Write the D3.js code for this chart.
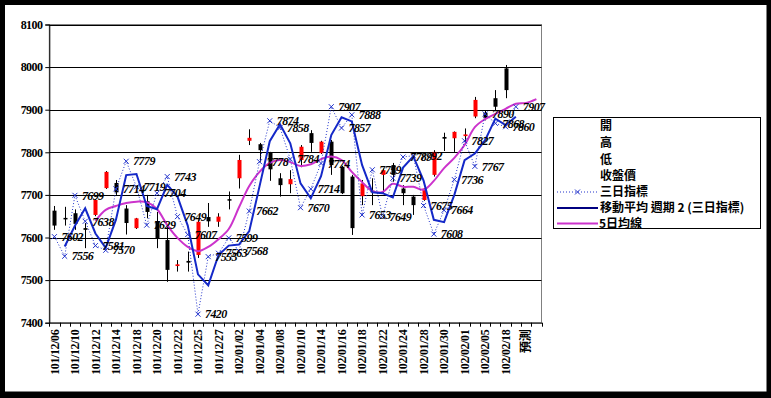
<!DOCTYPE html>
<html>
<head>
<meta charset="utf-8">
<script src="https://cdn.jsdelivr.net/npm/d3@7"></script>
<style>
  body { margin: 0; background: #000; }
  svg { display: block; }
</style>
</head>
<body>
<div id="chart"></div>
<script>
const width = 771
const height = 398
const margin = ({top: 24.5, right: 229.5, bottom: 75.3, left: 49.3})

// trading days (民國) ; last two slots are the forecast
const dates = ["101/12/06","101/12/07","101/12/10","101/12/11","101/12/12","101/12/13","101/12/14","101/12/17",
  "101/12/18","101/12/19","101/12/20","101/12/21","101/12/22","101/12/24","101/12/25","101/12/26",
  "101/12/27","101/12/28","102/01/02","102/01/03","102/01/04","102/01/07","102/01/08","102/01/09",
  "102/01/10","102/01/11","102/01/14","102/01/15","102/01/16","102/01/17","102/01/18","102/01/21",
  "102/01/22","102/01/23","102/01/24","102/01/25","102/01/28","102/01/29","102/01/30","102/01/31",
  "102/02/01","102/02/04","102/02/05","102/02/06","102/02/18","102/02/19","預測",""]

const open  = [7663,7646,7657,7622,7653,7716,7728,7668,7622,7685,7637,7594,7533,7545,7559,7648,
  7637,7690,7739,7827,7819,7799,7739,7725,7782,7845,7798,7825,7766,7743,7697,7710,
  7747,7770,7715,7696,7688,7747,7836,7833,7838,7884,7893,7927,7997]
const high  = [7674,7672,7666,7634,7690,7756,7735,7676,7646,7700,7660,7625,7547,7567,7640,7681,
  7657,7708,7794,7854,7822,7801,7751,7758,7817,7852,7827,7829,7768,7747,7735,7739,
  7762,7775,7723,7700,7716,7805,7846,7849,7856,7930,7897,7946,8005]
const low   = [7618,7628,7618,7575,7650,7714,7700,7607,7620,7645,7575,7496,7520,7520,7552,7625,
  7625,7666,7715,7817,7778,7733,7696,7704,7765,7801,7796,7747,7702,7606,7676,7676,
  7704,7731,7676,7653,7686,7743,7803,7801,7821,7880,7875,7899,7927]
const close = [7628,7644,7632,7618,7688,7754,7706,7634,7645,7660,7598,7524,7537,7541,7637,7638,
  7649,7688,7782,7834,7805,7760,7723,7737,7813,7822,7825,7770,7704,7622,7727,7706,
  7758,7747,7704,7676,7715,7801,7832,7848,7842,7923,7880,7907,7946]

// 三日指標
const sanRi = [7602,7556,7699,7638,7581,7570,7714,7779,7719,7629,7704,7743,7649,7607,7420,7555,
  7563,7599,7568,7662,7778,7874,7858,7784,7670,7714,7774,7907,7857,7888,7653,7759,
  7649,7739,7789,7792,7675,7608,7664,7736,7827,7767,7890,7868,7860,7907]

// 5日均線
const ma5 = [null,null,null,null,7639,7665,7674,7681,7684,7683,7667,7629,7599,7578,7568,7578,
  7596,7620,7671,7721,7754,7775,7782,7777,7768,7772,7784,7790,7782,7754,7730,7709,
  7707,7726,7719,7719,7712,7733,7763,7787,7817,7859,7878,7890,7902,7914,7916,7925]

const yTicks = [7400,7500,7600,7700,7800,7900,8000,8100]

const legendItems = ["開","高","低","收盤價","三日指標","移動平均 週期 2 (三日指標)","5日均線"]

// moving average, period 2, of 三日指標 (Excel trendline)
const ma2 = sanRi.map((v, i) => i === 0 ? null : (sanRi[i-1] + v) / 2)

const x = d3.scaleBand()
  .domain(d3.range(dates.length))
  .range([margin.left, width - margin.right])

const y = d3.scaleLinear()
  .domain([7400, 8100])
  .range([height - margin.bottom, margin.top])

const cx = i => x(i) + x.bandwidth() / 2

const svg = d3.select("#chart")
  .append("svg")
  .attr("width", width)
  .attr("height", height)

svg.append("rect").attr("width", width).attr("height", height).attr("fill", "#000")
svg.append("rect")
  .attr("x", 5).attr("y", 5)
  .attr("width", 761.5).attr("height", 386.5)
  .attr("fill", "#fff")

// plot border
svg.append("rect")
  .attr("x", margin.left).attr("y", margin.top)
  .attr("width", width - margin.right - margin.left)
  .attr("height", y(7400) - y(8100))
  .attr("fill", "none")
  .attr("stroke", "#808080")

// gridlines
svg.append("g")
  .selectAll("line")
  .data(yTicks.slice(1))
  .join("line")
  .attr("x1", margin.left).attr("x2", width - margin.right)
  .attr("y1", d => Math.round(y(d)) + 0.5).attr("y2", d => Math.round(y(d)) + 0.5)
  .attr("stroke", "#000")

const yAxis = g => g
  .attr("transform", `translate(${margin.left},0)`)
  .call(d3.axisLeft(y).tickValues(yTicks).tickSize(4).tickPadding(3).tickFormat(d3.format("d")))
  .call(g => g.select(".domain").attr("stroke", "#000"))
  .call(g => g.selectAll("text")
    .attr("font-family", "'Liberation Serif', serif")
    .attr("font-weight", "bold")
    .attr("font-size", "12px")
    .attr("letter-spacing", "-0.6px")
    .attr("fill", "#000"))

const xAxis = g => g
  .attr("transform", `translate(0,${height - margin.bottom})`)
  .call(d3.axisBottom(x)
    .tickValues(d3.range(0, dates.length, 2))
    .tickFormat(i => dates[i])
    .tickSize(0)
    .tickSizeOuter(0))
  .call(g => g.select(".domain").attr("stroke", "#000"))
  .call(g => g.selectAll("text")
    .attr("font-family", "'Liberation Serif', 'Noto Sans CJK TC', serif")
    .attr("font-weight", "bold")
    .attr("font-size", "12px")
    .attr("letter-spacing", "-0.4px")
    .attr("fill", "#000")
    .attr("text-anchor", "end")
    .attr("dy", "0.35em")
    .attr("transform", "translate(0,7) rotate(-90)")
    .attr("x", 0).attr("y", 0))

svg.append("g").call(xAxis)
svg.append("g").call(yAxis)

// category boundary ticks
svg.append("g")
  .selectAll("line")
  .data(d3.range(dates.length + 1))
  .join("line")
  .attr("x1", i => Math.round(margin.left + i * x.step()) + 0.5)
  .attr("x2", i => Math.round(margin.left + i * x.step()) + 0.5)
  .attr("y1", y(7400)).attr("y2", y(7400) + 4)
  .attr("stroke", "#000")

// candlesticks
const candles = open.map((o, i) => ({i, o, h: high[i], l: low[i], c: close[i]}))
const bw = 4
const cg = svg.append("g")
cg.selectAll("line")
  .data(candles)
  .join("line")
  .attr("x1", d => Math.round(cx(d.i)) + 0.5).attr("x2", d => Math.round(cx(d.i)) + 0.5)
  .attr("y1", d => y(d.h)).attr("y2", d => y(d.l))
  .attr("stroke", "#000")
cg.selectAll("rect")
  .data(candles)
  .join("rect")
  .attr("x", d => Math.round(cx(d.i)) - bw / 2 + 0.5)
  .attr("width", bw)
  .attr("y", d => y(Math.max(d.o, d.c)))
  .attr("height", d => Math.max(1.5, Math.abs(y(d.o) - y(d.c))))
  .attr("fill", d => d.c >= d.o ? "#ff0000" : "#000")

// 5日均線
svg.append("path")
  .datum(ma5.map((v, i) => [i, v]).filter(d => d[1] != null))
  .attr("fill", "none")
  .attr("stroke", "#cc33cc")
  .attr("stroke-width", 2)
  .attr("d", d3.line().x(d => cx(d[0])).y(d => y(d[1])).curve(d3.curveCatmullRom))

// 三日指標 dotted line
svg.append("path")
  .datum(sanRi.map((v, i) => [i, v]))
  .attr("fill", "none")
  .attr("stroke", "#2233cc")
  .attr("stroke-width", 1)
  .attr("stroke-dasharray", "1,2")
  .attr("d", d3.line().x(d => cx(d[0])).y(d => y(d[1])))

// moving average of 三日指標
svg.append("path")
  .datum(ma2.map((v, i) => [i, v]).filter(d => d[1] != null))
  .attr("fill", "none")
  .attr("stroke", "#1428c8")
  .attr("stroke-width", 2)
  .attr("d", d3.line().x(d => cx(d[0])).y(d => y(d[1])))

// × markers
const m = 2.5
svg.append("g")
  .selectAll("path")
  .data(sanRi.map((v, i) => [i, v]))
  .join("path")
  .attr("d", d => {
    const px = cx(d[0]), py = y(d[1])
    return `M${px-m},${py-m}L${px+m},${py+m}M${px-m},${py+m}L${px+m},${py-m}`
  })
  .attr("stroke", "#2233cc")
  .attr("stroke-width", 1)

// value labels
svg.append("g")
  .selectAll("text")
  .data(sanRi.map((v, i) => [i, v]))
  .join("text")
  .attr("x", d => cx(d[0]) + 7)
  .attr("y", d => y(d[1]))
  .attr("dy", "0.35em")
  .attr("font-family", "'Liberation Serif', serif")
  .attr("font-weight", "bold")
  .attr("font-style", "italic")
  .attr("font-size", "12px")
  .attr("letter-spacing", "-0.6px")
  .attr("fill", "#000")
  .text(d => d[1])

// legend
const lg = svg.append("g")
lg.append("rect")
  .attr("x", 553.5).attr("y", 117.5)
  .attr("width", 207).attr("height", 111)
  .attr("fill", "#fff")
  .attr("stroke", "#000")
const ly = [126, 142.7, 159.3, 176, 192, 208, 223.5]
lg.selectAll("text")
  .data(legendItems)
  .join("text")
  .attr("x", (d, i) => i === 6 ? 599 : 600)
  .attr("y", (d, i) => ly[i])
  .attr("dy", "0.36em")
  .attr("font-family", "'Noto Sans CJK TC', sans-serif")
  .attr("font-weight", "bold")
  .attr("font-size", "12px")
  .attr("fill", "#000")
  .text(d => d)
lg.append("line")
  .attr("x1", 557).attr("x2", 598).attr("y1", ly[4]).attr("y2", ly[4])
  .attr("stroke", "#2233cc").attr("stroke-dasharray", "1,2")
lg.append("path")
  .attr("d", `M${577.5-m},${ly[4]-m}L${577.5+m},${ly[4]+m}M${577.5-m},${ly[4]+m}L${577.5+m},${ly[4]-m}`)
  .attr("stroke", "#2233cc")
lg.append("line")
  .attr("x1", 557).attr("x2", 598).attr("y1", ly[5]).attr("y2", ly[5])
  .attr("stroke", "#000080").attr("stroke-width", 2)
lg.append("line")
  .attr("x1", 557).attr("x2", 598).attr("y1", ly[6]).attr("y2", ly[6])
  .attr("stroke", "#cc33cc").attr("stroke-width", 2)
</script>
</body>
</html>
